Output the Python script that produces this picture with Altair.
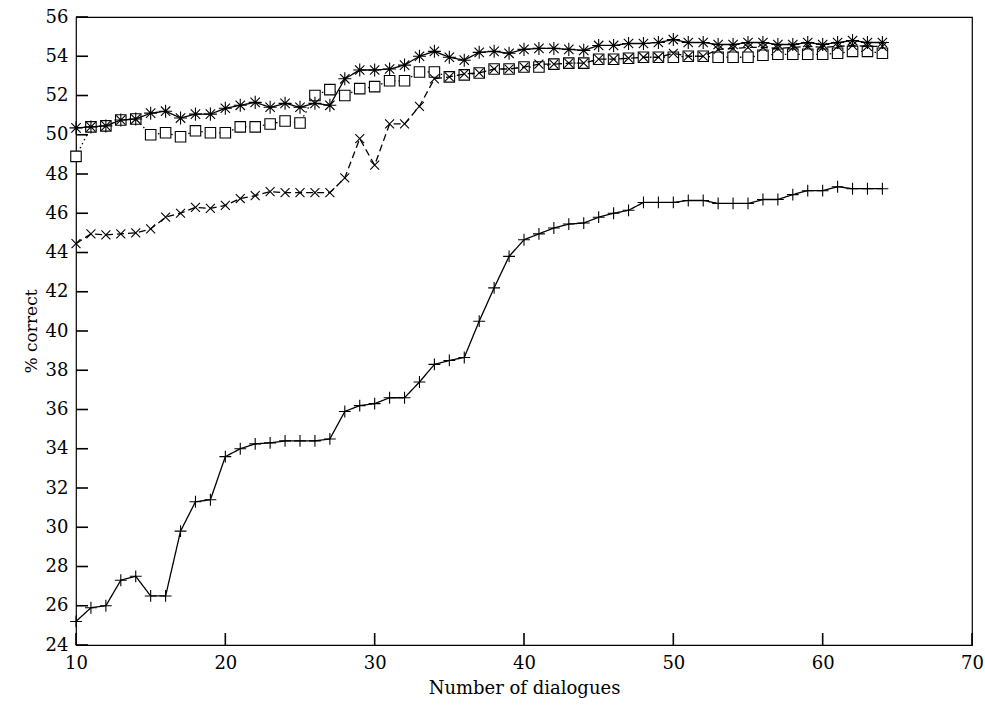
import altair as alt
import pandas as pd

x_vals = list(range(10, 65))

plus_vals = [25.2, 25.9, 26.0, 27.3, 27.5, 26.5, 26.5, 29.8, 31.3, 31.4,
             33.6, 34.0, 34.25, 34.3, 34.4, 34.4, 34.4, 34.5, 35.9, 36.2,
             36.3, 36.6, 36.6, 37.4, 38.3, 38.5, 38.65, 40.5, 42.2, 43.8,
             44.65, 44.95, 45.25, 45.45, 45.5, 45.8, 46.0, 46.15, 46.55, 46.55,
             46.55, 46.65, 46.65, 46.5, 46.5, 46.5, 46.7, 46.7, 46.95, 47.15,
             47.15, 47.35, 47.25, 47.25, 47.25]

cross_vals = [44.45, 44.95, 44.9, 44.95, 45.0, 45.2, 45.8, 46.0, 46.3, 46.25,
              46.4, 46.75, 46.9, 47.1, 47.05, 47.05, 47.05, 47.05, 47.8, 49.8,
              48.45, 50.55, 50.55, 51.45, 52.85, 52.95, 53.1, 53.15, 53.35, 53.35,
              53.45, 53.6, 53.6, 53.65, 53.65, 53.85, 53.85, 53.9, 53.95, 53.95,
              54.15, 54.0, 54.0, 54.35, 54.4, 54.45, 54.45, 54.4, 54.45, 54.5,
              54.45, 54.5, 54.55, 54.5, 54.5]

square_vals = [48.9, 50.4, 50.45, 50.75, 50.8, 50.0, 50.1, 49.9, 50.2, 50.1,
               50.1, 50.4, 50.4, 50.55, 50.7, 50.6, 52.0, 52.3, 52.0, 52.35,
               52.45, 52.75, 52.75, 53.2, 53.2, 52.95, 53.05, 53.15, 53.35, 53.35,
               53.45, 53.45, 53.6, 53.65, 53.65, 53.85, 53.85, 53.9, 53.95, 53.95,
               53.95, 54.0, 54.0, 53.95, 53.95, 53.95, 54.05, 54.1, 54.1, 54.1,
               54.1, 54.15, 54.25, 54.25, 54.15]

star_vals = [50.35, 50.4, 50.45, 50.75, 50.8, 51.1, 51.2, 50.85, 51.05, 51.05,
             51.35, 51.5, 51.65, 51.4, 51.6, 51.4, 51.6, 51.5, 52.85, 53.3,
             53.3, 53.35, 53.55, 54.0, 54.25, 53.95, 53.8, 54.2, 54.25, 54.15,
             54.35, 54.4, 54.4, 54.35, 54.3, 54.55, 54.55, 54.65, 54.65, 54.7,
             54.85, 54.7, 54.7, 54.6, 54.6, 54.7, 54.7, 54.6, 54.6, 54.7,
             54.6, 54.7, 54.8, 54.7, 54.7]

x_ticks = [10, 20, 30, 40, 50, 60, 70]
y_ticks = list(range(24, 57, 2))

series_names = ["plus", "square", "cross", "star"]
series_values = {"plus": plus_vals, "square": square_vals,
                 "cross": cross_vals, "star": star_vals}

rows = []
for name in series_names:
    for xv, yv in zip(x_vals, series_values[name]):
        rows.append({"x": xv, "y": yv, "series": name})
df = pd.DataFrame(rows)
xt_df = pd.DataFrame({"v": x_ticks})
yt_df = pd.DataFrame({"v": y_ticks})

W, H = 896, 628
TICK = 12
FONT = "DejaVu Serif"

x_scale = alt.Scale(domain=[10, 70], nice=False, zero=False)
y_scale = alt.Scale(domain=[24, 56], nice=False, zero=False)

x_main_axis = alt.Axis(values=x_ticks, ticks=False, domain=False, grid=False,
                       labelFlush=False,
                       title="Number of dialogues", labelFont=FONT, labelFontSize=18,
                       titleFont=FONT, titleFontSize=18, titleFontWeight="normal",
                       labelColor="black", titleColor="black",
                       labelPadding=9, titlePadding=7)
y_main_axis = alt.Axis(values=y_ticks, ticks=False, domain=False, grid=False,
                       labelFlush=False,
                       title="% correct", labelFont=FONT, labelFontSize=18,
                       titleFont=FONT, titleFontSize=17, titleFontWeight="normal",
                       labelColor="black", titleColor="black",
                       labelPadding=8, titlePadding=5)

styles = {
    "plus": dict(dash=[1, 0], shape="M-1,0L1,0M0,-1L0,1", size=140, fill=None),
    "square": dict(dash=[1.5, 3], shape="square", size=110, fill="white"),
    "cross": dict(dash=[7, 4], shape="M-1,-1L1,1M-1,1L1,-1", size=80, fill=None),
    "star": dict(dash=[1, 0], shape="M-1,0L1,0M0,-1L0,1M-0.72,-0.72L0.72,0.72M-0.72,0.72L0.72,-0.72",
                 size=170, fill=None),
}

layers = []
for name in series_names:
    st = styles[name]
    base = alt.Chart(df).transform_filter(alt.datum.series == name)
    x_enc = alt.X("x:Q", scale=x_scale, axis=x_main_axis)
    y_enc = alt.Y("y:Q", scale=y_scale, axis=y_main_axis)
    line = base.mark_line(color="black", strokeWidth=1.3, strokeDash=st["dash"]).encode(
        x=x_enc, y=y_enc)
    if st["fill"]:
        pts = base.mark_point(shape=st["shape"], size=st["size"], filled=True,
                              fill=st["fill"], stroke="black", strokeWidth=1.1,
                              opacity=1).encode(x=x_enc, y=y_enc)
    else:
        pts = base.mark_point(shape=st["shape"], size=st["size"], filled=False,
                              stroke="black", strokeWidth=1.1, opacity=1).encode(
            x=x_enc, y=y_enc)
    layers.append(line)
    layers.append(pts)

# inward-pointing ticks, placed through the shared scales
xtick_layer = alt.Chart(xt_df).mark_rule(color="#000000", strokeWidth=1.6, opacity=1).encode(
    x=alt.X("v:Q", scale=x_scale, axis=x_main_axis),
    y=alt.value(H), y2=alt.value(H - TICK))
ytick_layer = alt.Chart(yt_df).mark_rule(color="#000000", strokeWidth=1.6, opacity=1).encode(
    y=alt.Y("v:Q", scale=y_scale, axis=y_main_axis),
    x=alt.value(0), x2=alt.value(TICK))
layers = layers + [xtick_layer, ytick_layer]

chart = alt.layer(*layers).properties(
    width=W, height=H,
    autosize=alt.AutoSizeParams(type="none"),
    padding={"left": 76, "top": 17, "right": 13, "bottom": 60},
    background="white",
).configure_view(stroke="black", strokeWidth=1.2)

chart.save("out.html", embed_options={"renderer": "svg", "actions": False})
